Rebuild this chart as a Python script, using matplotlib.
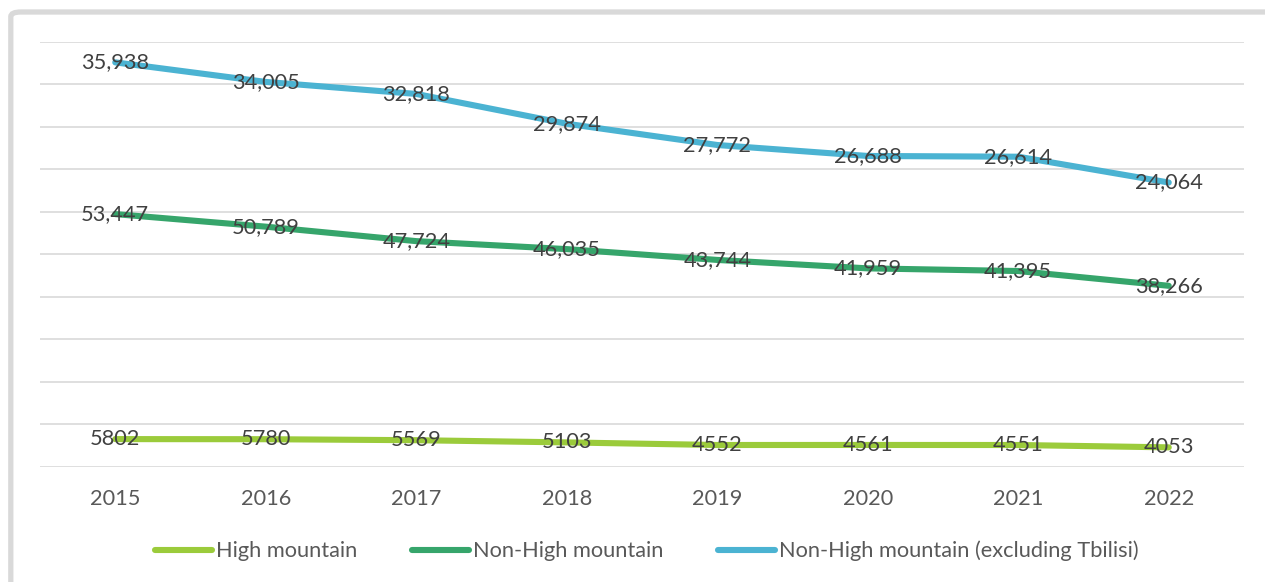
import matplotlib
matplotlib.use("Agg")
import matplotlib.pyplot as plt
from matplotlib.patches import FancyBboxPatch

plt.rcParams['font.family'] = ['Lato', 'DejaVu Sans']

# Population by zone, 2015-2022
years = ['2015', '2016', '2017', '2018', '2019', '2020', '2021', '2022']
high_mountain = [5802, 5780, 5569, 5103, 4552, 4561, 4551, 4053]
non_high = [53447, 50789, 47724, 46035, 43744, 41959, 41395, 38266]
non_high_ex_tbilisi = [35938, 34005, 32818, 29874, 27772, 26688, 26614, 24064]

c_high = '#9BCB3B'
c_non = '#36A56B'
c_ex = '#4BB3D2'
txt = '#404040'
axis_txt = '#595959'
grid_c = '#D9D9D9'
fs = 15.7

fig = plt.figure(figsize=(12.65, 5.82), dpi=100)
ax = fig.add_axes([40 / 1265, 115.5 / 582, 1204 / 1265, 425 / 582])
ax2 = ax.twinx()

x = list(range(len(years)))

ax.plot(x, high_mountain, color=c_high, lw=4.4, solid_capstyle='round',
        label='High mountain', zorder=3)
ax.plot(x, non_high, color=c_non, lw=4.4, solid_capstyle='round',
        label='Non-High mountain', zorder=3)
ax2.plot(x, non_high_ex_tbilisi, color=c_ex, lw=4.4, solid_capstyle='round',
         label='Non-High mountain (excluding Tbilisi)', zorder=3)

# data labels centred on the points
for i in x:
    ax.text(i, high_mountain[i], str(high_mountain[i]), ha='center', va='center',
            fontsize=fs, color=txt, zorder=5)
    ax.text(i, non_high[i], f'{non_high[i]:,}', ha='center', va='center',
            fontsize=fs, color=txt, zorder=5)
    ax2.text(i, non_high_ex_tbilisi[i], f'{non_high_ex_tbilisi[i]:,}', ha='center',
             va='center', fontsize=fs, color=txt, zorder=5)

ax.set_xlim(-0.5, len(years) - 0.5)
ax.set_ylim(0, 90000)
ax.set_yticks(range(0, 90001, 9000))
ax.yaxis.grid(True, color=grid_c, lw=1.2)
ax.set_axisbelow(True)
ax.tick_params(axis='y', left=False, labelleft=False)
ax.set_xticks(x)
ax.set_xticklabels(years, fontsize=fs, color=axis_txt)
ax.tick_params(axis='x', length=0, pad=16)

ax2.set_ylim(-4000, 38000)
ax2.tick_params(axis='y', right=False, labelright=False)

for a in (ax, ax2):
    for s in a.spines.values():
        s.set_visible(False)

h1, l1 = ax.get_legend_handles_labels()
h2, l2 = ax2.get_legend_handles_labels()
fig.legend(h1 + h2, l1 + l2, loc='center', bbox_to_anchor=(647 / 1265, 1 - 551 / 582),
           ncol=3, frameon=False, fontsize=fs, labelcolor=axis_txt,
           handlelength=2.6, handletextpad=0.2, columnspacing=2.5)

# light grey chart frame
frame = FancyBboxPatch((10.8 / 1265, -0.1), 1.2, 1 - 12 / 582 + 0.1,
                       boxstyle='round,pad=0,rounding_size=0.008',
                       transform=fig.transFigure, facecolor='none',
                       edgecolor=grid_c, lw=3.8, clip_on=False)
fig.patches.append(frame)

fig.savefig('out.png', dpi=100)
